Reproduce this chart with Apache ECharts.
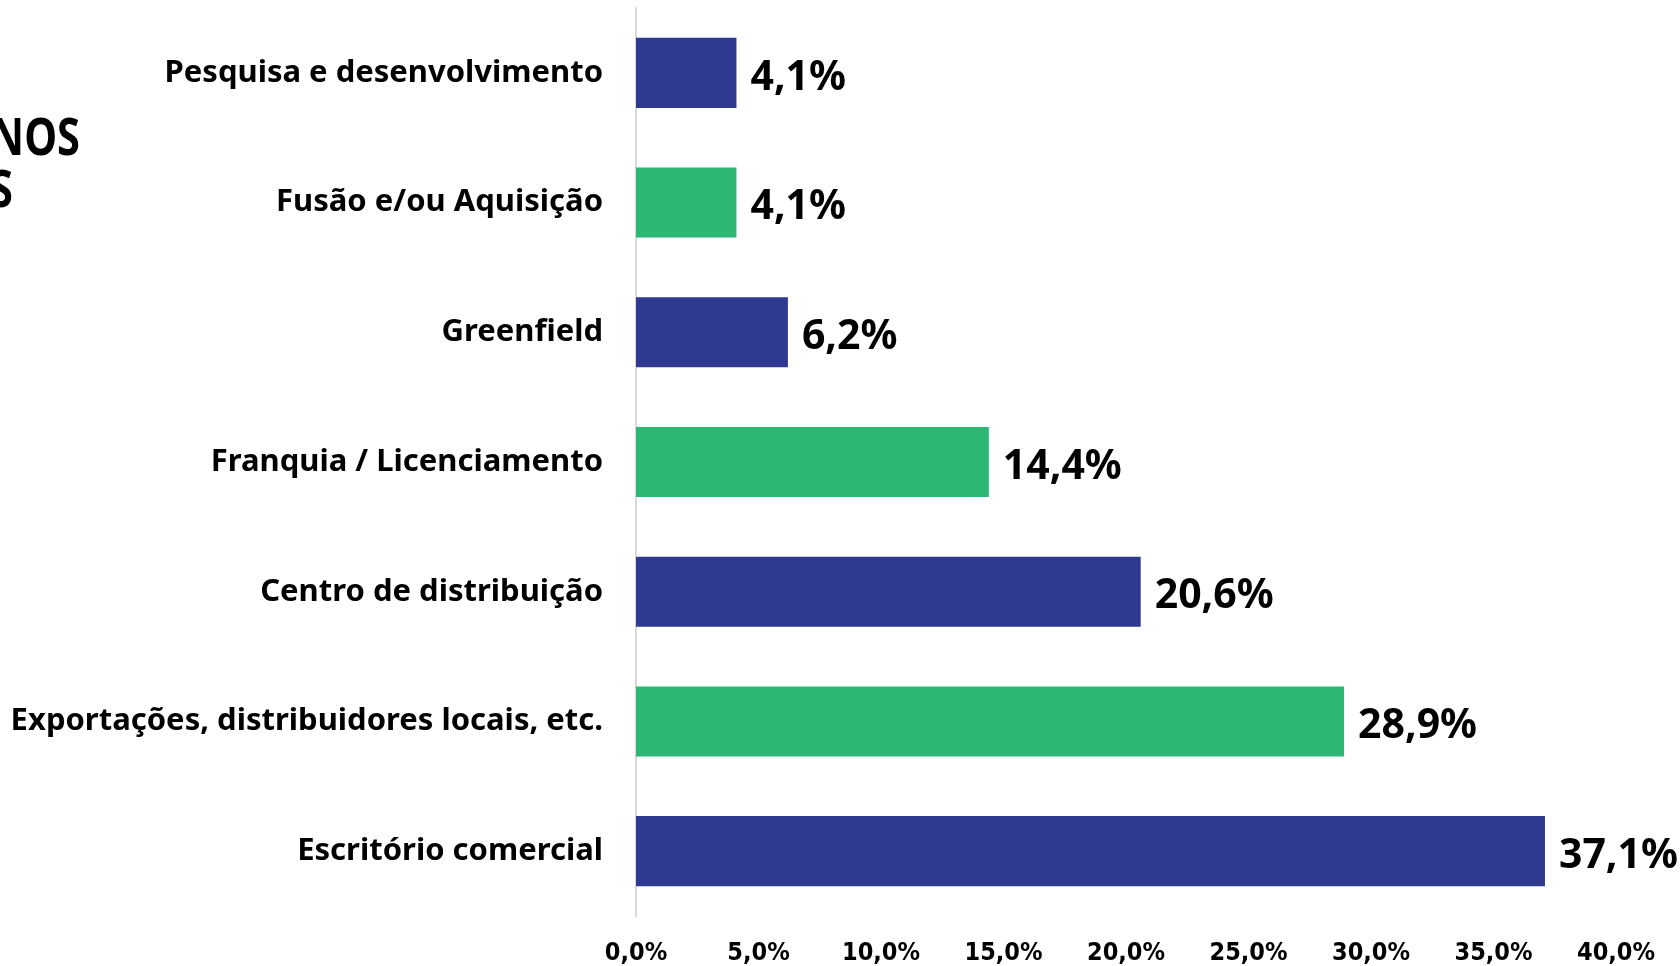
<!DOCTYPE html>
<html>
<head>
<meta charset="utf-8">
<script src="https://cdn.jsdelivr.net/npm/echarts@6/dist/echarts.min.js"></script>
<style>
html,body{margin:0;padding:0;background:#fff;}
#chart{width:1680px;height:966px;}
</style>
</head>
<body>
<div id="chart"></div>
<script>
const categories = [
  'Pesquisa e desenvolvimento',
  'Fusão e/ou Aquisição',
  'Greenfield',
  'Franquia / Licenciamento',
  'Centro de distribuição',
  'Exportações, distribuidores locais, etc.',
  'Escritório comercial'
];
const values = [4.1, 4.1, 6.2, 14.4, 20.6, 28.9, 37.1];
const barColors = ['#2E398F', '#2CB775', '#2E398F', '#2CB775', '#2E398F', '#2CB775', '#2E398F'];
const titleLines = ['NOS', 'S'];

const FONT = '"Noto Sans", "DejaVu Sans", sans-serif';
const fmt = v => v.toFixed(1).replace('.', ',') + '%';

const chart = echarts.init(document.getElementById('chart'), null, {renderer: 'canvas'});
chart.setOption({
  backgroundColor: '#ffffff',
  animation: false,
  grid: {left: 636, right: 64, top: 8, bottom: 50, containLabel: false},
  xAxis: {
    type: 'value', min: 0, max: 40, interval: 5,
    axisLine: {show: false}, axisTick: {show: false}, splitLine: {show: false},
    axisLabel: {
      formatter: v => fmt(v), color: '#000', fontWeight: 'bold',
      fontFamily: '"DejaVu Sans Condensed", "DejaVu Sans", sans-serif', fontSize: 25, margin: 25
    }
  },
  yAxis: {
    type: 'category', inverse: true, data: categories,
    axisLine: {show: true, lineStyle: {color: '#d9d9d9', width: 2}},
    axisTick: {show: false},
    axisLabel: {color: '#000', fontWeight: 'bold', fontFamily: FONT, fontSize: 31, margin: 33, padding: [9, 0, 0, 0]}
  },
  series: [{
    type: 'bar',
    barCategoryGap: '46%',
    data: values.map((v, i) => ({value: v, itemStyle: {color: barColors[i]}})),
    label: {
      show: true, position: 'right', distance: 14, offset: [0, 5],
      formatter: p => fmt(p.value), color: '#000', fontWeight: 'bold',
      fontFamily: FONT, fontSize: 41
    }
  }],
  graphic: [
    {type: 'text', right: 1680 - 80, top: 114, scaleX: 0.8,
     style: {text: titleLines[0], fontSize: 52, fontWeight: 'bold', fontFamily: FONT, fill: '#000', textAlign: 'right'}},
    {type: 'text', right: 1680 - 13, top: 166, scaleX: 0.8,
     style: {text: titleLines[1], fontSize: 52, fontWeight: 'bold', fontFamily: FONT, fill: '#000', textAlign: 'right'}}
  ]
});
</script>
</body>
</html>
